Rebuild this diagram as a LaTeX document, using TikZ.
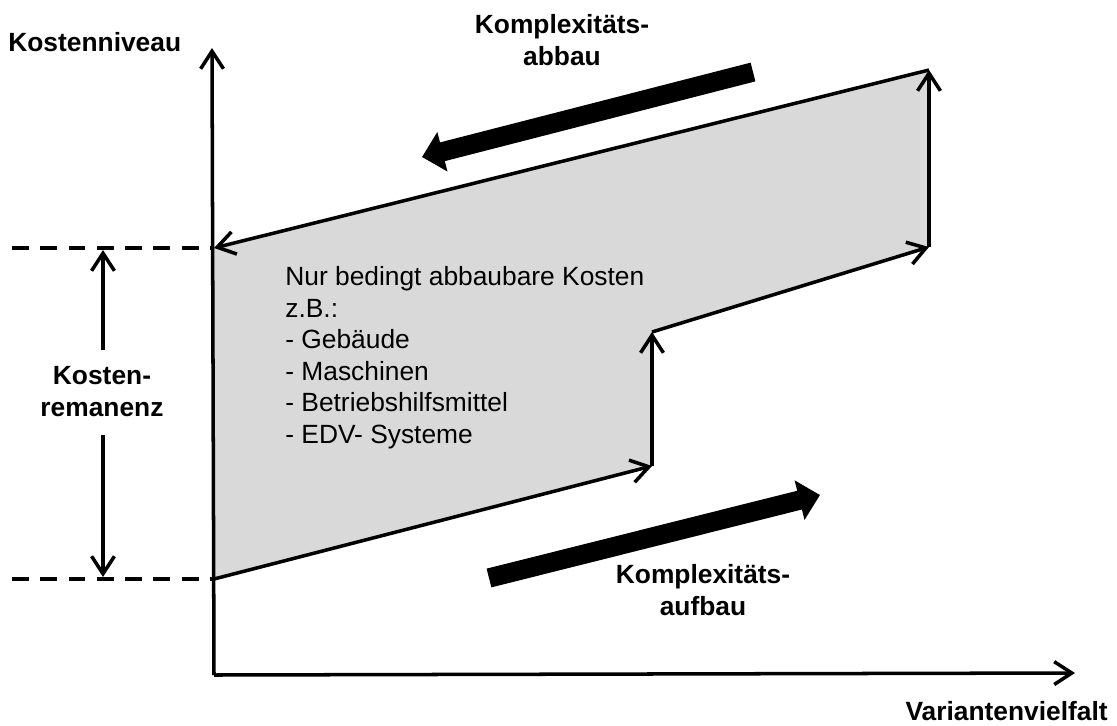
\documentclass[tikz,border=0pt]{standalone}
\usepackage{fontspec}
\setmainfont{Liberation Sans}
\usetikzlibrary{arrows.meta}
\definecolor{fillgray}{HTML}{D9D9D9}
\begin{document}
\begin{tikzpicture}[x=0.02cm,y=-0.02cm,
  line/.style={line width=2pt,line cap=butt},
  barb/.style={line,-{Straight Barb[length=10pt,width=13pt]}},
  bigarrow/.style={line width=11pt,-{Triangle[length=12pt,width=22.5pt]}},
  dashline/.style={line width=1.9pt,dash pattern=on 9.6pt off 6.5pt},
  bold/.style={font=\fontsize{15}{18.5}\selectfont\bfseries,inner sep=0pt},
  plain/.style={font=\fontsize{15}{18}\selectfont,inner sep=0pt}]
\useasboundingbox (0,0) rectangle (1117,725);

% corner points of the cost corridor
\coordinate (A) at (214,248);
\coordinate (B) at (214,579);
\coordinate (C) at (652,466);
\coordinate (D) at (652,332);
\coordinate (E) at (929,247);
\coordinate (F) at (929,70);

% axes
\coordinate (O) at (214,675);
\coordinate (ytip) at (212,48);
\coordinate (xtip) at (1075,673);

% dashed reference levels
\coordinate (dA) at (12,248);
\coordinate (dB) at (12,579);

% remanence span arrows
\coordinate (rTop) at (103,250);
\coordinate (rTopStart) at (103,350);
\coordinate (rBot) at (103,577);
\coordinate (rBotStart) at (103,435);

% thick trend arrows
\coordinate (upTail) at (753,72);
\coordinate (upTip) at (422,157);
\coordinate (lowTail) at (489,578);
\coordinate (lowTip) at (820,495);

% shaded corridor
\fill[fillgray] (A) -- (B) -- (C) -- (D) -- (E) -- (F) -- cycle;

% corridor edges
\draw[barb] (B) -- (C);
\draw[barb] (C) -- (D);
\draw[barb] (D) -- (E);
\draw[barb] (E) -- (F);
\draw[barb] (F) -- (A);

% axes
\draw[barb] (O) -- (ytip);
\draw[barb] (O) -- (xtip);

% dashed levels
\draw[dashline] (dA) -- (A);
\draw[dashline] (dB) -- (B);

% remanence arrows
\draw[barb] (rTopStart) -- (rTop);
\draw[barb] (rBotStart) -- (rBot);

% trend arrows
\draw[bigarrow] (upTail) -- (upTip);
\draw[bigarrow] (lowTail) -- (lowTip);

% labels
\node[bold,anchor=base west] (ylabel) at (8,51) {Kostenniveau};
\node[bold,anchor=base east] (xlabel) at (1108,720) {Variantenvielfalt};
\node[bold,anchor=north,align=center] (abbau) at (562,14) {Komplexitäts-\\abbau};
\node[bold,anchor=north,align=center] (aufbau) at (703,564) {Komplexitäts-\\aufbau};
\node[bold,anchor=north,align=center] (rem) at (102,366) {Kosten-\\remanenz};
\node[plain,anchor=north west,align=left] (costs) at (285,266)
  {Nur bedingt abbaubare Kosten\\z.B.:\\- Gebäude\\- Maschinen\\- Betriebshilfsmittel\\- EDV- Systeme};
\end{tikzpicture}
\end{document}
